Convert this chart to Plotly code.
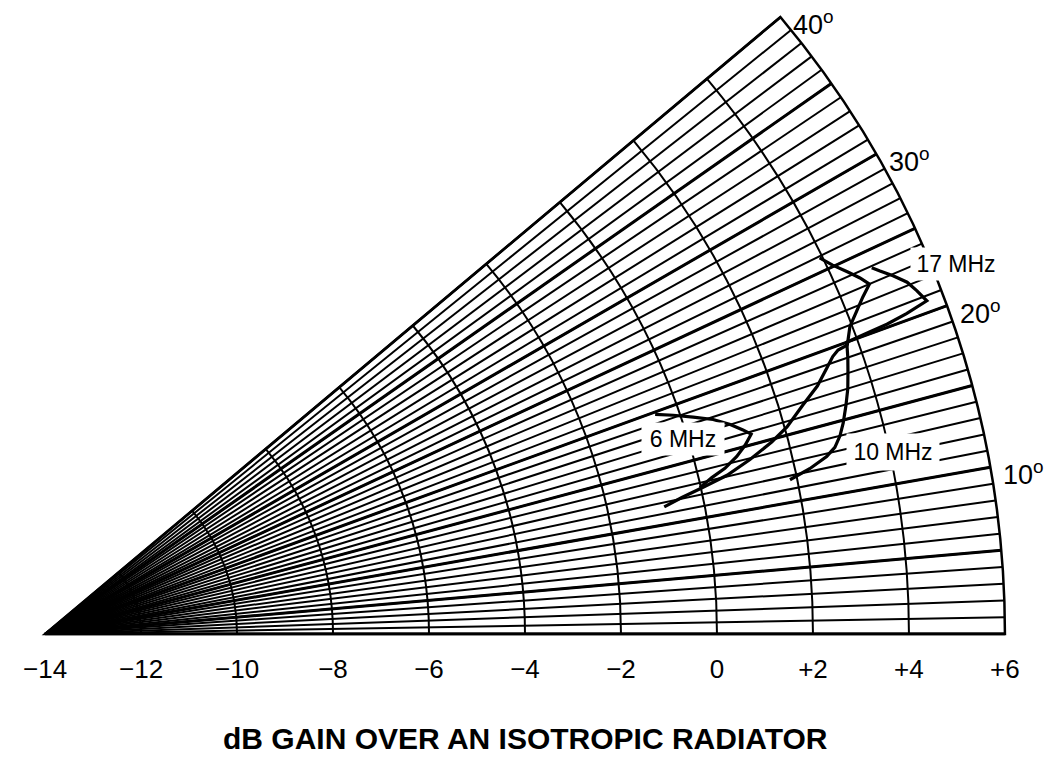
import math
import plotly.graph_objects as go

# ---- chart data -----------------------------------------------------------
# Elevation angle (degrees) and gain over an isotropic radiator (dB)
theta_6mhz = [19.8, 19.2, 18.5, 17.8, 17.0, 16.3, 15.8, 15.1, 14.4, 13.7, 13.2, 12.6]
gain_6mhz = [-0.49, -0.14, 0.24, 0.62, 0.93, 1.15, 1.29, 1.11, 0.88, 0.58, 0.27, -0.02]

theta_10mhz = [11.7, 12.2, 12.8, 13.3, 14.0, 14.8, 15.9, 17.0, 18.1, 19.0, 19.7,
               20.9, 21.7, 22.4, 23.0, 23.6, 24.3, 25.1, 25.9]
gain_10mhz = [1.85, 2.30, 2.70, 2.91, 3.07, 3.20, 3.35, 3.49, 3.60, 3.69, 3.75,
              3.95, 4.20, 4.43, 4.66, 4.53, 4.34, 4.12, 3.94]

theta_17mhz = [11.6, 12.1, 12.5, 13.1, 13.9, 14.8, 15.6, 16.8, 17.8, 18.8, 19.4, 19.7,
               19.8, 20.0, 20.1, 20.2, 20.4, 20.7, 21.5, 22.2, 22.9, 23.5, 23.9]
gain_17mhz = [-0.83, -0.43, -0.02, 0.59, 1.13, 1.66, 2.05, 2.49, 2.90, 3.21, 3.40, 3.55,
              3.74, 3.78, 4.23, 4.69, 5.15, 5.64, 5.52, 5.40, 5.18, 4.97, 4.84]

# curve labels: text and (gain, angle) of the label centre
curve_labels = ["6 MHz", "10 MHz", "17 MHz"]
label_gain = [-0.10, 4.07, 6.48]
label_theta = [17.0, 12.1, 22.1]

# axes
gain_ticks = [-14, -12, -10, -8, -6, -4, -2, 0, 2, 4, 6]
gain_ticktext = ["\u221214", "\u221212", "\u221210", "\u22128", "\u22126", "\u22124",
                 "\u22122", "0", "+2", "+4", "+6"]
angle_ticks = list(range(0, 41))
angle_major = [10, 20, 30, 40]
angle_bold = [0, 5, 10, 15, 20, 25, 30, 35, 40]

R_MIN, R_MAX = -14, 6
SECTOR = 40
FONT = "Liberation Sans, Arial, Helvetica, sans-serif"

fig = go.Figure()

# heavier rays every 5 degrees
for a in angle_bold:
    fig.add_trace(go.Scatterpolar(
        r=[R_MIN, R_MAX], theta=[a, a], mode="lines",
        line=dict(color="black", width=3), hoverinfo="skip", showlegend=False))

# gain curves
for th, g in [(theta_6mhz, gain_6mhz), (theta_10mhz, gain_10mhz), (theta_17mhz, gain_17mhz)]:
    fig.add_trace(go.Scatterpolar(
        r=g, theta=th, mode="lines",
        line=dict(color="black", width=3.2), showlegend=False))


def to_paper(r, th):
    """Map a (gain, angle) pair to paper coordinates of the polar domain."""
    rr = (r - R_MIN) / (R_MAX - R_MIN)
    t = math.radians(th)
    return rr * math.cos(t), rr * math.sin(t) / math.sin(math.radians(SECTOR))


# elevation-angle labels just outside the outer arc
for a in angle_major:
    x, y = to_paper(R_MAX, a)
    fig.add_annotation(x=x, y=y, xref="paper", yref="paper",
                       text=f"{a}<sup>o</sup>", showarrow=False,
                       xanchor="left", yanchor="middle", xshift=11, yshift=-6,
                       font=dict(family=FONT, size=27, color="black"))

box_w = [80, 90, 88]
box_h = [30, 34, 30]
for txt, g, th, w, h in zip(curve_labels, label_gain, label_theta, box_w, box_h):
    x, y = to_paper(g, th)
    fig.add_annotation(x=x, y=y, xref="paper", yref="paper", text=txt,
                       xanchor="center", yanchor="middle",
                       showarrow=False, bgcolor="white", width=w, height=h,
                       font=dict(family=FONT, size=23, color="black"))

fig.add_annotation(x=0.5, y=-0.170, xref="paper", yref="paper",
                   xanchor="center", yanchor="middle", borderpad=0,
                   text="<b>dB GAIN OVER AN ISOTROPIC RADIATOR</b>", showarrow=False,
                   font=dict(family=FONT, size=30, color="black"))

fig.update_layout(
    width=1052, height=757,
    margin=dict(l=45, r=47, t=17, b=123),
    paper_bgcolor="white",
    polar=dict(
        bgcolor="white",
        sector=[0, SECTOR],
        hole=0,
        radialaxis=dict(
            range=[R_MIN, R_MAX], tickvals=gain_ticks, ticktext=gain_ticktext,
            angle=0, side="clockwise", showline=True, linecolor="black", linewidth=2.5,
            gridcolor="black", gridwidth=2, ticks="outside", ticklen=12,
            tickcolor="rgba(0,0,0,0)",
            tickfont=dict(family=FONT, size=26, color="black")),
        angularaxis=dict(
            direction="counterclockwise", rotation=0,
            tickvals=angle_ticks, showticklabels=False,
            showline=True, linecolor="black", linewidth=2.5,
            gridcolor="black", gridwidth=2, ticks=""),
    ),
)

fig.write_html("out.html")
